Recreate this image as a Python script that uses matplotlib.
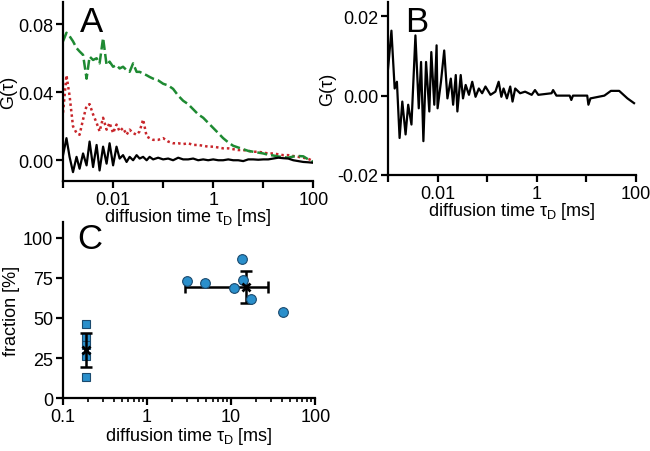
import matplotlib
matplotlib.use("Agg")
import matplotlib.pyplot as plt
import matplotlib.ticker as mticker

plt.rcParams['font.family'] = ['Liberation Sans', 'DejaVu Sans']
plt.rcParams['mathtext.fontset'] = 'custom'
plt.rcParams['mathtext.rm'] = 'Liberation Sans'
plt.rcParams['font.size'] = 13

# Panel A: shared lag-time grid (ms) and three correlation curves
tau_a = [0.00100, 0.00117, 0.00135, 0.00158, 0.00186, 0.00214, 0.00251, 0.00295, 0.00339, 0.00398,
         0.00468, 0.00537, 0.00631, 0.00741, 0.00851, 0.0100, 0.0117, 0.0135, 0.0158, 0.0186,
         0.0214, 0.0251, 0.0295, 0.0339, 0.0398, 0.0468, 0.0537, 0.0631, 0.0794, 0.100,
         0.126, 0.158, 0.200, 0.251, 0.316, 0.398, 0.501, 0.631, 0.794, 1.00,
         1.26, 1.58, 2.00, 2.51, 3.16, 3.98, 5.01, 6.31, 7.94, 10.0,
         12.6, 15.8, 20.0, 25.1, 31.6, 39.8, 50.1, 63.1, 79.4, 100.0]

g_green = [70, 75, 73, 70, 66, 64, 62, 48, 61, 59,
           60, 57, 72, 56, 58, 55, 56, 54, 55, 53,
           52, 57, 52, 52, 51, 50, 49, 48, 47, 45,
           44, 42, 38, 35, 33, 30, 27, 25, 22, 19,
           16, 13, 10.5, 8.5, 7.5, 6.5, 5.5, 5, 4.5, 4,
           3.2, 2.8, 2.2, 1.8, 1.5, 2.2, 2.5, 2.3, 0.5, -1]

g_red = [28, 50, 38, 20, 16, 15, 24, 32, 33, 27,
         22, 17, 25, 18, 22, 16, 21, 17, 19, 15,
         18, 16, 15, 17, 24, 14, 13, 12, 12, 13,
         11, 10, 10, 9.5, 10, 9, 9, 8.5, 8, 8,
         7.5, 7, 7, 6.5, 6, 6, 5.5, 5, 5, 4.5,
         4, 4, 3.5, 3, 3, 2.5, 2, 1.5, 0.8, -0.5]

g_black = [3, 13, 2, -7, 2, -5, 4, -3, 11, -4,
           9, -6, 8, -2, 10, -3, 8, 1, 3, -1,
           2, 0, 3, 1, 2, 0, 2, 0.5, 1.5, 0.5,
           1, 0, 1.5, 0.5, 0.5, 1, 0, 0.5, 0, 0.5,
           0, 0, 0.5, 0, 0, -0.5, 0.5, 0.5, 0.3, 0.5,
           0.5, 1, 1.5, 1.2, 1, 0, -0.5, -1, -1.2, -1.5]

# Panel B: difference curve
tau_b = [0.00100, 0.00117, 0.00136, 0.00151, 0.00171, 0.00194, 0.00226, 0.00255, 0.00297, 0.00357,
         0.00417, 0.00464, 0.00517, 0.00585, 0.00681, 0.00747, 0.00858, 0.00955, 0.0100, 0.0117,
         0.0136, 0.0158, 0.0185, 0.0206, 0.0233, 0.0251, 0.0293, 0.0326, 0.0369, 0.0430,
         0.0501, 0.0584, 0.0681, 0.0794, 0.0926, 0.117, 0.147, 0.171, 0.194, 0.215,
         0.251, 0.293, 0.326, 0.369, 0.464, 0.585, 0.794, 0.926, 1.08, 2.00,
         2.15, 2.51, 4.64, 5.01, 5.41, 10.5, 11.1, 12.2, 23.3, 31.6,
         46.4, 68.1, 92.6]

g_b = [6.8, 16.4, 1.8, 3.5, -10.7, -1.5, -9.8, -2.3, -7.3, 15.2,
       -3.2, 8.5, -11.5, 8.5, -4.0, 11.0, -2.3, 12.7, -3.2, 3.5,
       11.4, -0.7, 4.3, -2.3, 5.2, -4.0, 5.2, -0.7, 2.7, 0.2,
       3.5, -0.3, 1.8, 0.6, 2.3, 0.2, 1.0, 3.5, -0.3, 1.8,
       -0.7, 2.3, -1.5, 1.8, 0.6, 1.0, 0.2, 1.4, 0.2, 0.6,
       1.4, 0.0, 0.0, -1.1, 0.0, 0.0, -2.3, -0.7, 0.0, 1.2,
       1.2, -0.7, -1.9]

# Panel C: fractions vs diffusion time
fast_tau = [0.19, 0.19, 0.19, 0.19, 0.19]
fast_frac = [46, 38, 33, 26, 13]
slow_tau = [3.0, 4.9, 10.8, 13.5, 13.8, 17.0, 41.0]
slow_frac = [73, 72, 69, 87, 74, 62, 54]
fast_mean = (0.19, 30.0)
fast_err = (0.0, 10.5)
slow_mean = (15.2, 69.5)
slow_err = (12.4, 10.0)

BLUE = '#2a8fcb'
GREEN = '#1e8a32'
RED = '#c8262b'

fig = plt.figure(figsize=(6.5, 4.52), dpi=100)
ax_a = fig.add_axes([0.097, 0.597, 0.385, 0.396])
ax_b = fig.add_axes([0.597, 0.611, 0.381, 0.382])
ax_c = fig.add_axes([0.097, 0.117, 0.388, 0.390])
for ax in (ax_a, ax_b, ax_c):
    ax.patch.set_visible(False)


def style(ax):
    for s in ['top', 'right']:
        ax.spines[s].set_visible(False)
    for s in ['left', 'bottom']:
        ax.spines[s].set_linewidth(1.6)
    ax.tick_params(which='major', direction='out', length=5, width=1.6, labelsize=13, pad=2)
    ax.tick_params(which='minor', direction='out', length=3, width=1.2)


ga = [v / 1000 for v in g_green]
ra = [v / 1000 for v in g_red]
ba = [v / 1000 for v in g_black]
ax_a.plot(tau_a, ra, color=RED, lw=1.8, linestyle=(0, (1, 1.2)))
ax_a.plot(tau_a, ga, color=GREEN, lw=1.8, linestyle=(0, (4, 1.6)))
ax_a.plot(tau_a, ba, color='black', lw=1.6)
ax_a.set_xscale('log')
ax_a.set_xlim(0.001, 100)
ax_a.set_ylim(-0.0123, 0.093)
ax_a.set_yticks([0.0, 0.04, 0.08])
ax_a.yaxis.set_major_formatter(mticker.FormatStrFormatter('%.2f'))
ax_a.set_ylabel('G(τ)', labelpad=1)

gb = [v / 1000 for v in g_b]
ax_b.plot(tau_b, gb, color='black', lw=1.6)
ax_b.set_xscale('log')
ax_b.set_xlim(0.001, 100)
ax_b.set_ylim(-0.02, 0.0236)
ax_b.set_yticks([-0.02, 0.0, 0.02])
ax_b.yaxis.set_major_formatter(mticker.FormatStrFormatter('%.2f'))
ax_b.set_ylabel('G(τ)', labelpad=1)

dec_ticks = [0.001, 0.01, 0.1, 1, 10, 100]
dec_labels = ['', '0.01', '', '1', '', '100']
for ax in (ax_a, ax_b):
    style(ax)
    ax.xaxis.set_major_locator(mticker.FixedLocator(dec_ticks))
    ax.xaxis.set_minor_locator(mticker.NullLocator())
    ax.set_xticklabels(dec_labels)
    ax.set_xlabel('diffusion time τ$_\\mathregular{D}$ [ms]', labelpad=-1)

ax_c.errorbar([fast_mean[0]], [fast_mean[1]], yerr=[fast_err[1]], fmt='none',
              ecolor='black', elinewidth=1.8, capsize=4, capthick=1.8, zorder=3)
ax_c.errorbar([slow_mean[0]], [slow_mean[1]], xerr=[slow_err[0]], yerr=[slow_err[1]], fmt='none',
              ecolor='black', elinewidth=1.8, capsize=4, capthick=1.8, zorder=2)
ax_c.plot(fast_tau, fast_frac, 's', ms=6, mfc=BLUE, mec='#1b4a6e', mew=0.8, zorder=2)
ax_c.plot(slow_tau, slow_frac, 'o', ms=7, mfc=BLUE, mec='#1b4a6e', mew=0.8, zorder=3)
ax_c.plot([fast_mean[0], slow_mean[0]], [fast_mean[1], slow_mean[1]], 'x', ms=6,
          mec='black', mew=2, zorder=4, linestyle='none')
ax_c.set_xscale('log')
ax_c.set_xlim(0.1, 100)
ax_c.set_ylim(0, 110)
ax_c.set_yticks([0, 25, 50, 75, 100])
ax_c.xaxis.set_major_formatter(mticker.FuncFormatter(lambda v, p: f'{v:g}'))
style(ax_c)
ax_c.set_xlabel('diffusion time τ$_\\mathregular{D}$ [ms]', labelpad=0)
ax_c.set_ylabel('fraction [%]', labelpad=2)

ax_a.text(0.068, 0.985, 'A', transform=ax_a.transAxes, fontsize=25, va='top', ha='left')
ax_b.text(0.069, 0.985, 'B', transform=ax_b.transAxes, fontsize=25, va='top', ha='left')
ax_c.text(0.055, 1.0, 'C', transform=ax_c.transAxes, fontsize=25, va='top', ha='left')

fig.savefig('out.png', dpi=100)
